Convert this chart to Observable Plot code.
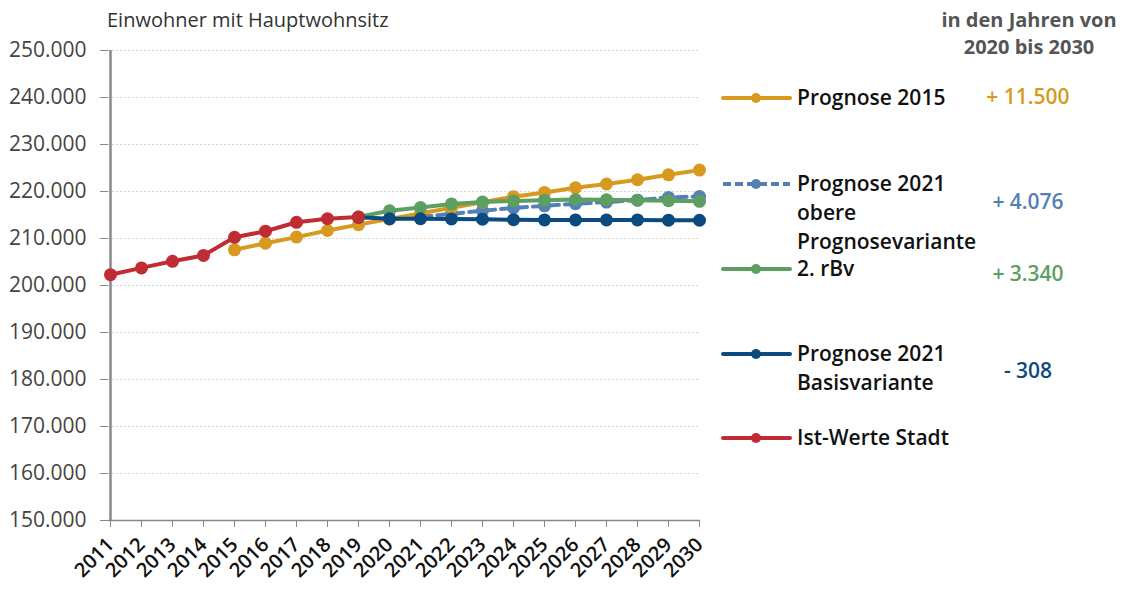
<!DOCTYPE html>
<html>
<head>
<meta charset="utf-8">
<script src="https://cdn.jsdelivr.net/npm/d3@7"></script>
<script src="https://cdn.jsdelivr.net/npm/@observablehq/plot@0.6"></script>
<style>
  html, body { margin: 0; padding: 0; background: #fff; }
  #wrap { position: relative; width: 1123px; height: 590px; font-family: "Open Sans", sans-serif; }
  #wrap .abs { position: absolute; white-space: nowrap; }
  #wrap .title { left: 107px; top: 6px; font-size: 20px; color: #333; line-height: 28px; }
  #wrap .head { left: 929px; width: 200px; top: 6px; font-size: 20px; font-weight: 700; color: #555; text-align: center; line-height: 27px; }
  #wrap .lab { font-size: 21px; font-weight: 600; color: #111; line-height: 29px; }
  #wrap .num { font-size: 21px; font-weight: 600; width: 120px; text-align: center; }
  #wrap g[aria-label="x-axis tick label"] text { font-size: 20px; font-weight: 600; }
</style>
</head>
<body>
<div id="wrap"></div>
<script>
// ---- data ----
const years = ["2011","2012","2013","2014","2015","2016","2017","2018","2019","2020","2021","2022","2023","2024","2025","2026","2027","2028","2029","2030"];
const yTicks = [150000,160000,170000,180000,190000,200000,210000,220000,230000,240000,250000];

const istYears = ["2011","2012","2013","2014","2015","2016","2017","2018","2019"];
const istWerte = [202300,203750,205150,206400,210250,211550,213450,214200,214550];

const p2015Years = ["2015","2016","2017","2018","2019","2020","2021","2022","2023","2024","2025","2026","2027","2028","2029","2030"];
const prognose2015 = [207600,209000,210300,211700,212950,214150,215350,216550,217700,218900,219800,220800,221600,222500,223550,224550];

const p2021Years = ["2019","2020","2021","2022","2023","2024","2025","2026","2027","2028","2029","2030"];
const rBv2 = [214600,215900,216600,217350,217750,218000,218150,218300,218250,218150,218050,217900];
const basis2021 = [214500,214200,214200,214150,214100,214000,213950,213950,213950,213950,213900,213880];

const obereYears = ["2020","2021","2022","2023","2024","2025","2026","2027","2028","2029","2030"];
const obere2021 = [214150,214600,215250,215900,216500,216950,217400,217750,218150,218750,218950];

const seriesNames = ["Prognose 2015","Prognose 2021 obere Prognosevariante","2. rBv","Prognose 2021 Basisvariante","Ist-Werte Stadt"];
const seriesColors = ["#D8991F","#5480B3","#5C9F61","#0A4A7F","#BF2C34"];
const changeTexts = ["+ 11.500","+ 4.076","+ 3.340","- 308",""];

// ---- build tables ----
const toRows = (ys, vs) => ys.map((y, i) => ({year: y, value: vs[i]}));
const tIst = toRows(istYears, istWerte);
const t2015 = toRows(p2015Years, prognose2015);
const tGreen = toRows(p2021Years, rBv2);
const tBasis = toRows(p2021Years, basis2021);
const tObere = toRows(obereYears, obere2021);

const fmt = d => d3.format(",")(d).replace(/,/g, ".");

const R = 6.5, SW = 4;
const lineDot = (data, color, dash) => [
  Plot.line(data, {x: "year", y: "value", stroke: color, strokeWidth: SW, strokeDasharray: dash, strokeLinejoin: "round"}),
  Plot.dot(data, {x: "year", y: "value", fill: color, r: R})
];

const chart = Plot.plot({
  width: 1123,
  height: 590,
  marginLeft: 108,
  marginRight: 423,
  marginTop: 50,
  marginBottom: 70,
  style: {fontFamily: "'Open Sans', sans-serif", background: "white", overflow: "visible"},
  x: {type: "point", domain: years, padding: 0},
  y: {domain: [150000, 250000]},
  marks: [
    Plot.gridY(yTicks, {stroke: "#d4d4d4", strokeOpacity: 1, strokeDasharray: "2,2", strokeWidth: 1}),
    Plot.axisY(yTicks, {tickSize: 8, tickPadding: 14, tickFormat: fmt, fontSize: 21, stroke: "#888", fill: "#444", label: null}),
    Plot.axisX(years, {tickRotate: -45, tickSize: 7, tickPadding: 14, fontSize: 20, fontWeight: 600, stroke: "#888", fill: "#111", label: null}),
    Plot.ruleY([150000], {stroke: "#888", strokeWidth: 1.5}),
    Plot.ruleX(["2011"], {stroke: "#888", strokeWidth: 2.5}),
    ...lineDot(tObere, seriesColors[1], "10,6"),
    ...lineDot(t2015, seriesColors[0]),
    ...lineDot(tGreen, seriesColors[2]),
    ...lineDot(tBasis, seriesColors[3]),
    ...lineDot(tIst, seriesColors[4])
  ]
});

// enforce axis label font sizes
d3.select(chart).selectAll('g[aria-label="y-axis tick label"]').style("font-size", "21px").attr("font-size", 21);
d3.select(chart).selectAll('g[aria-label="x-axis tick label"]').style("font-size", "20px").attr("font-size", 20).attr("font-weight", 600);

const wrap = document.getElementById("wrap");
chart.style.position = "absolute";
chart.style.left = "0px";
chart.style.top = "0px";
wrap.appendChild(chart);

function addDiv(cls, html, left, top, extra) {
  const d = document.createElement("div");
  d.className = "abs " + cls;
  d.innerHTML = html;
  if (left !== null) d.style.left = left + "px";
  if (top !== null) d.style.top = top + "px";
  if (extra) Object.assign(d.style, extra);
  wrap.appendChild(d);
  return d;
}
addDiv("title", "Einwohner mit Hauptwohnsitz", null, null);
addDiv("head", "in den Jahren von<br>2020 bis 2030", null, null);

// legend
const legendY = [98, 184, 269, 354, 438];
const legendLabels = [
  ["Prognose 2015"],
  ["Prognose 2021", "obere", "Prognosevariante"],
  ["2. rBv"],
  ["Prognose 2021", "Basisvariante"],
  ["Ist-Werte Stadt"]
];
const numY = [97, 202, 274, 371, null];
const svgNS = "http://www.w3.org/2000/svg";
const lsvg = document.createElementNS(svgNS, "svg");
lsvg.setAttribute("width", 1123); lsvg.setAttribute("height", 590);
lsvg.style.position = "absolute"; lsvg.style.left = "0"; lsvg.style.top = "0";
wrap.appendChild(lsvg);
seriesNames.forEach((name, i) => {
  const y = legendY[i];
  const ln = document.createElementNS(svgNS, "line");
  ln.setAttribute("x1", 723); ln.setAttribute("x2", 790);
  ln.setAttribute("y1", y); ln.setAttribute("y2", y);
  ln.setAttribute("stroke", seriesColors[i]); ln.setAttribute("stroke-width", 4);
  if (i === 1) ln.setAttribute("stroke-dasharray", "8,4");
  else ln.setAttribute("stroke-linecap", "round");
  lsvg.appendChild(ln);
  const c = document.createElementNS(svgNS, "circle");
  c.setAttribute("cx", 756); c.setAttribute("cy", y); c.setAttribute("r", 5);
  c.setAttribute("fill", seriesColors[i]);
  lsvg.appendChild(c);
  addDiv("lab", legendLabels[i].join("<br>"), 797, y - 15);
  if (changeTexts[i]) addDiv("num", changeTexts[i], 968, numY[i] - 15, {color: seriesColors[i]});
});
</script>
</body>
</html>
